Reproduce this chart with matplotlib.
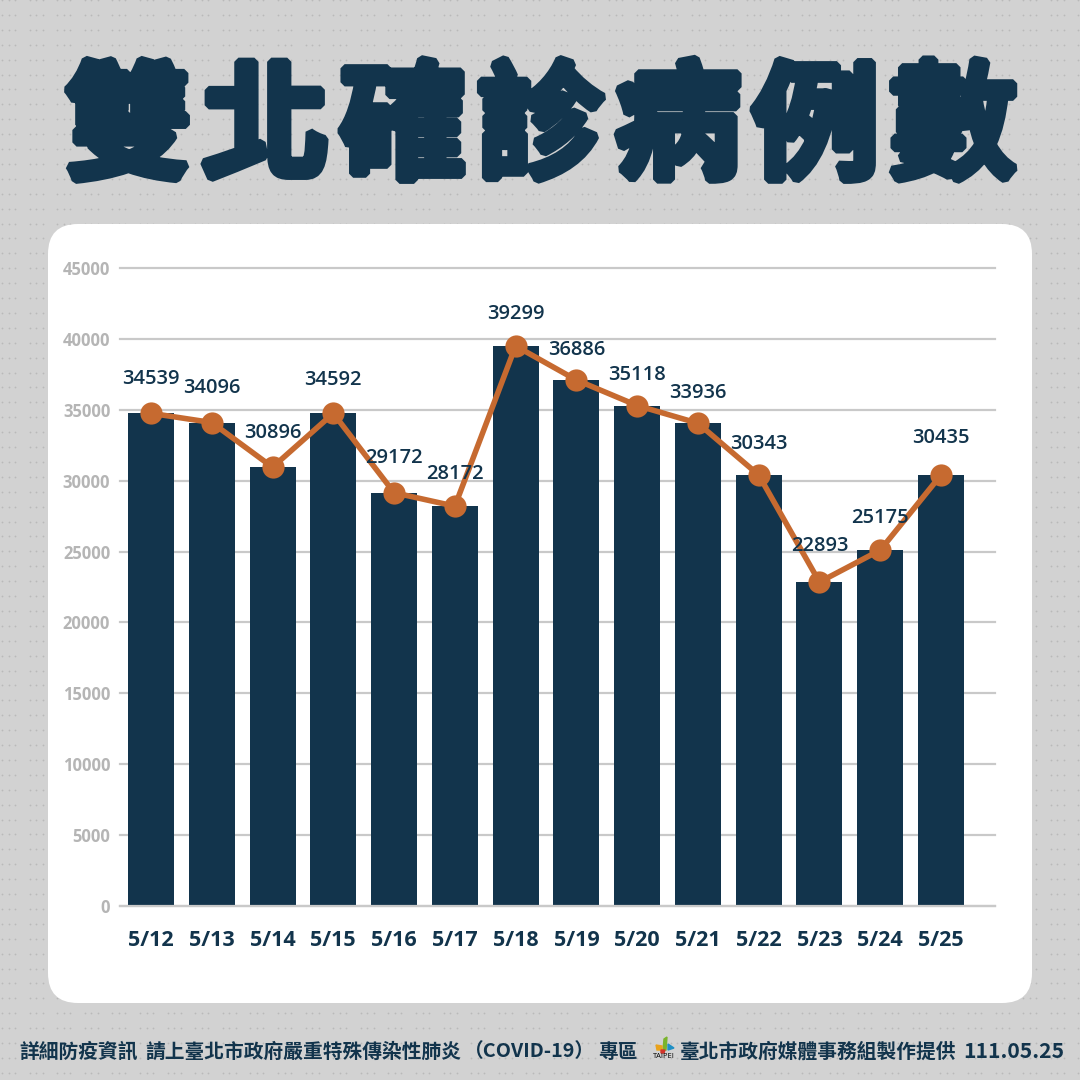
import numpy as np
import matplotlib
matplotlib.use("Agg")
import matplotlib.pyplot as plt
from matplotlib.patches import FancyBboxPatch, Polygon
import matplotlib.patheffects as pe

plt.rcParams['font.family'] = ['Noto Sans CJK TC', 'DejaVu Sans']

# datos del grafico
fechas = ["5/12", "5/13", "5/14", "5/15", "5/16", "5/17", "5/18",
          "5/19", "5/20", "5/21", "5/22", "5/23", "5/24", "5/25"]
etiquetas = [34539, 34096, 30896, 34592, 29172, 28172, 39299,
             36886, 35118, 33936, 30343, 22893, 25175, 30435]
valores = [34750, 34100, 30950, 34750, 29150, 28200, 39500,
           37100, 35300, 34050, 30400, 22850, 25100, 30400]
ticks_y = [0, 5000, 10000, 15000, 20000, 25000, 30000, 35000, 40000, 45000]

# separacion de cada etiqueta sobre su punto, en pixeles
sep_etiqueta = [36, 36, 36, 35, 36, 34, 33, 32, 32, 32, 32, 38, 34, 38]

azul = "#12344c"
naranja = "#c66a30"
gris = "#d2d2d2"
num_font = ["Open Sans", "DejaVu Sans"]

fig = plt.figure(figsize=(10.8, 10.8), dpi=100, facecolor=gris)

# fondo en pixeles
bg = fig.add_axes([0, 0, 1, 1])
bg.set_xlim(0, 1080)
bg.set_ylim(1080, 0)
bg.axis("off")

# textura de puntitos
px, py = [], []
for y in np.arange(0, 1080, 14.9):
    for x in np.arange(2, 1080, 27.6):
        for k in range(3):
            px.append(x + k * 6.5)
            py.append(y)
bg.scatter(px, py, s=1.6, color="#b9b9b9", linewidths=0, zorder=1)

card = FancyBboxPatch((78, 254), 924, 719, boxstyle="round,pad=30,rounding_size=30",
                      facecolor="white", edgecolor="none", zorder=2)
bg.add_patch(card)

# titulo
titulo = "雙北確診病例數"
for i, c in enumerate(titulo):
    bg.text(128 + i * 137.5, 131, c, fontsize=92, fontweight=900, color=azul,
            ha="center", va="center", zorder=3,
            path_effects=[pe.withStroke(linewidth=6, foreground=azul, joinstyle="bevel")])

# pie de pagina
pie = dict(fontsize=14.2, fontweight="bold", color=azul, va="center", zorder=3)
bg.text(19, 1052, "詳細防疫資訊", ha="left", **pie)
bg.text(145, 1052, "請上臺北市政府嚴重特殊傳染性肺炎", ha="left", **pie)
bg.text(530, 1052, "（COVID-19）", ha="center", **pie)
bg.text(598, 1052, "專區", ha="left", **pie)
bg.text(680, 1052, "臺北市政府媒體事務組製作提供", ha="left", **pie)
bg.text(1064, 1052, "111.05.25", fontsize=15.2, fontweight="bold",
        color=azul, ha="right", va="center", zorder=3)

# logo
bg.add_patch(Polygon([[664, 1039], [667, 1037], [666, 1050], [663, 1050]], color="#7ab42c", zorder=3))
bg.add_patch(Polygon([[656, 1045], [662, 1046], [662, 1050], [657, 1050]], color="#e9a21c", zorder=3))
bg.add_patch(Polygon([[668, 1044], [674, 1048], [668, 1050]], color="#1f8fc4", zorder=3))
bg.add_patch(Polygon([[661, 1050], [665, 1050], [664, 1053], [661, 1053]], color="#d4342b", zorder=3))
bg.text(664, 1057, "TAIPEI", fontsize=5.4, color="black",
        ha="center", va="center", zorder=3, family=num_font)

# grafico principal
ax = fig.add_axes([120 / 1080, 1 - 906 / 1080, 875 / 1080, 638 / 1080], facecolor="none")
x = np.arange(len(fechas))
ax.set_xlim(-31 / 60.77, 13 + 54 / 60.77)
ax.set_ylim(0, 45000)
ax.grid(axis="y", color="#c9c9c9", linewidth=1.6, zorder=1)
ax.set_axisbelow(True)
ax.bar(x, valores, width=46 / 60.77, color=azul, zorder=2)
ax.plot(x, valores, color=naranja, linewidth=4, marker="o", markersize=16,
        markerfacecolor=naranja, markeredgecolor=naranja, markeredgewidth=0, zorder=3)
for xi, v, e, s in zip(x, valores, etiquetas, sep_etiqueta):
    ax.annotate(str(e), (xi, v), xytext=(0, (s - 1.5) * 0.72), textcoords="offset points",
                ha="center", va="center", fontsize=14.5, fontweight=600,
                color=azul, family=num_font, zorder=4)

for s in ["top", "right", "left"]:
    ax.spines[s].set_visible(False)
ax.spines["bottom"].set_color("#c9c9c9")
ax.spines["bottom"].set_linewidth(1.6)
ax.set_xticks(x)
ax.set_xticklabels(fechas, fontsize=15.5, fontweight="bold", color=azul, family=num_font)
ax.set_yticks(ticks_y)
ax.set_yticklabels([str(t) for t in ticks_y], fontsize=12, fontweight="bold",
                   color="#b5b5b5", family=num_font)
ax.tick_params(axis="both", length=0)
ax.tick_params(axis="x", pad=17)
ax.tick_params(axis="y", pad=7)
for g in ax.get_ygridlines():
    g.set_clip_on(False)

fig.savefig("out.png", dpi=100, facecolor=gris)
